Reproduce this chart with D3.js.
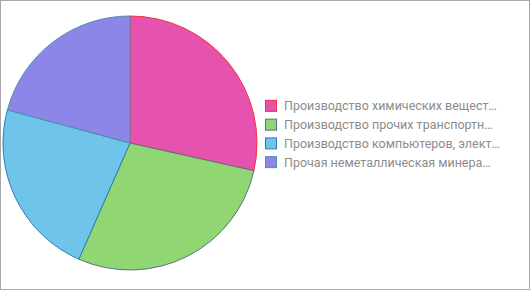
<!DOCTYPE html>
<html>
<head>
<meta charset="utf-8">
<script src="https://cdn.jsdelivr.net/npm/d3@7"></script>
<style>
  html, body { margin: 0; padding: 0; background: #fff; }
  svg { display: block; }
</style>
</head>
<body>
<svg id="chart" width="530" height="290"></svg>
<script>
// Industry shares (percent)
const categories = [
  "Производство химических веществ и химических продуктов",
  "Производство прочих транспортных средств и оборудования",
  "Производство компьютеров, электронных и оптических изделий",
  "Прочая неметаллическая минеральная продукция"
];
const labels = [
  "Производство химических вещест…",
  "Производство прочих транспортн…",
  "Производство компьютеров, элект…",
  "Прочая неметаллическая минера…"
];
const values = [28.5, 28.1, 22.6, 20.8];
const fills = ["#e553ae", "#90d672", "#6ec5e9", "#8d86e8"];
const strokes = ["#f5303f", "#5a6f86", "#2f7db5", "#4c91a6"];

const svg = d3.select("#chart");

// outer frame
svg.append("rect")
  .attr("x", 0.5).attr("y", 0.5)
  .attr("width", 529).attr("height", 289)
  .attr("fill", "#fff")
  .attr("stroke", "#a8a8a8")
  .attr("stroke-width", 1);

const cx = 130, cy = 143, r = 127;

const pie = d3.pie().value(d => d).sort(null);
const arc = d3.arc().innerRadius(0).outerRadius(r);

const g = svg.append("g").attr("transform", `translate(${cx},${cy})`);
g.selectAll("path")
  .data(pie(values))
  .join("path")
  .attr("d", arc)
  .attr("fill", (d, i) => fills[i])
  .attr("stroke", (d, i) => strokes[i])
  .attr("stroke-width", 1)
  .attr("stroke-linejoin", "round");

// legend
const legendY = d3.scaleBand()
  .domain(d3.range(categories.length))
  .range([96.5, 171.5]);

const lg = svg.append("g");
const items = lg.selectAll("g")
  .data(categories)
  .join("g")
  .attr("transform", (d, i) => `translate(265,${legendY(i)})`);

items.append("rect")
  .attr("x", 0.5).attr("y", legendY.bandwidth() / 2 - 5.5)
  .attr("width", 11).attr("height", 11)
  .attr("fill", (d, i) => fills[i])
  .attr("stroke", (d, i) => strokes[i])
  .attr("stroke-width", 1);

items.append("text")
  .attr("x", 19)
  .attr("y", legendY.bandwidth() / 2 + 4.5)
  .attr("font-family", "Roboto, 'Liberation Sans', Arial, sans-serif")
  .attr("font-size", 12.5)
  .attr("fill", "#8c8c8c")
  .text((d, i) => labels[i]);
</script>
</body>
</html>
